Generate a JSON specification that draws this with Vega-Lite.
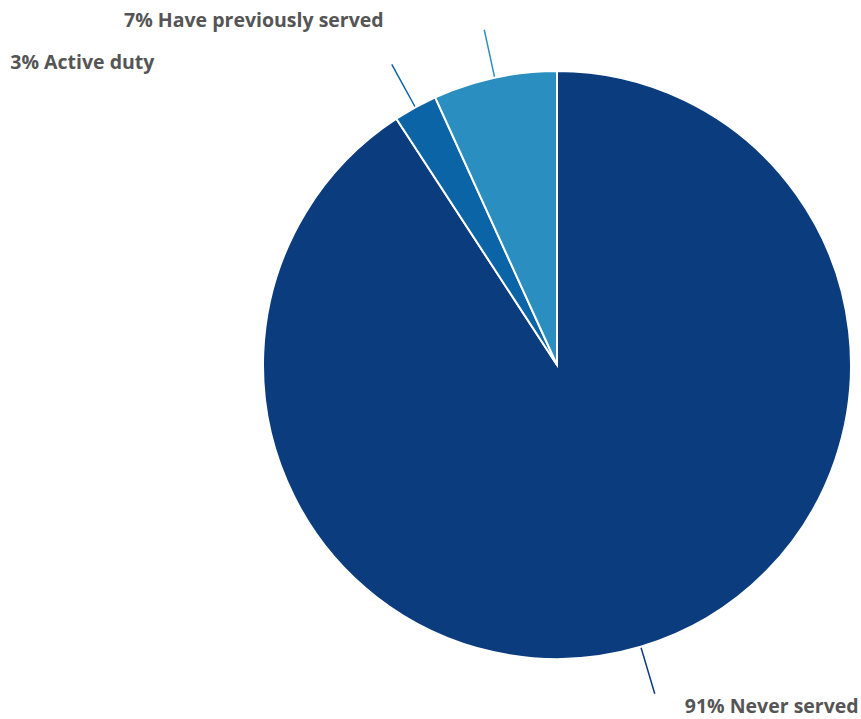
{
  "$schema": "https://vega.github.io/schema/vega-lite/v6.json",
  "width": 608,
  "height": 708,
  "autosize": "none",
  "padding": {"left": 253, "top": 11, "right": 0, "bottom": 0},
  "background": "white",
  "config": {"view": {"stroke": null}},
  "data": {"values": [
    {"status": "Never served", "label": "91% Never served", "value": 90.8, "order": 1},
    {"status": "Active duty", "label": "3% Active duty", "value": 2.4, "order": 2},
    {"status": "Have previously served", "label": "7% Have previously served", "value": 6.8, "order": 3}
  ]},
  "transform": [
    {"stack": "value", "groupby": [], "sort": [{"field": "order"}], "as": ["v0", "v1"]},
    {"calculate": "(datum.v0 + datum.v1) / 2", "as": "mid"}
  ],
  "layer": [
    {
      "mark": {"type": "arc", "outerRadius": 294, "stroke": "white", "strokeWidth": 2},
      "encoding": {
        "theta": {"field": "v0", "type": "quantitative", "scale": {"domain": [0, 100]}},
        "theta2": {"field": "v1"},
        "color": {"field": "status", "type": "nominal", "legend": null,
          "scale": {"domain": ["Never served", "Active duty", "Have previously served"],
                    "range": ["#0b3d7e", "#0a64a6", "#2b8ec0"]}}
      }
    },
    {
      "mark": {"type": "arc", "innerRadius": 295, "outerRadius": 343, "strokeWidth": 1.5, "fillOpacity": 0},
      "encoding": {
        "theta": {"field": "mid", "type": "quantitative", "scale": {"domain": [0, 100]}},
        "theta2": {"field": "mid"},
        "stroke": {"field": "status", "type": "nominal", "legend": null,
          "scale": {"domain": ["Never served", "Active duty", "Have previously served"],
                    "range": ["#0b3d7e", "#0a64a6", "#2b8ec0"]}}
      }
    },
    {
      "transform": [{"filter": "datum.status === 'Never served'"}],
      "mark": {"type": "text", "radius": 294, "align": "left", "baseline": "middle", "dx": 44, "dy": 60,
               "font": "Open Sans", "fontWeight": "bold", "fontSize": 19.5, "color": "#555555"},
      "encoding": {
        "theta": {"field": "mid", "type": "quantitative", "scale": {"domain": [0, 100]}},
        "text": {"field": "label"}
      }
    },
    {
      "transform": [{"filter": "datum.status === 'Active duty'"}],
      "mark": {"type": "text", "radius": 294, "align": "right", "baseline": "middle", "dx": -261, "dy": -44,
               "font": "Open Sans", "fontWeight": "bold", "fontSize": 19.5, "color": "#555555"},
      "encoding": {
        "theta": {"field": "mid", "type": "quantitative", "scale": {"domain": [0, 100]}},
        "text": {"field": "label"}
      }
    },
    {
      "transform": [{"filter": "datum.status === 'Have previously served'"}],
      "mark": {"type": "text", "radius": 294, "align": "right", "baseline": "middle", "dx": -111, "dy": -57,
               "font": "Open Sans", "fontWeight": "bold", "fontSize": 19.5, "color": "#555555"},
      "encoding": {
        "theta": {"field": "mid", "type": "quantitative", "scale": {"domain": [0, 100]}},
        "text": {"field": "label"}
      }
    }
  ]
}
